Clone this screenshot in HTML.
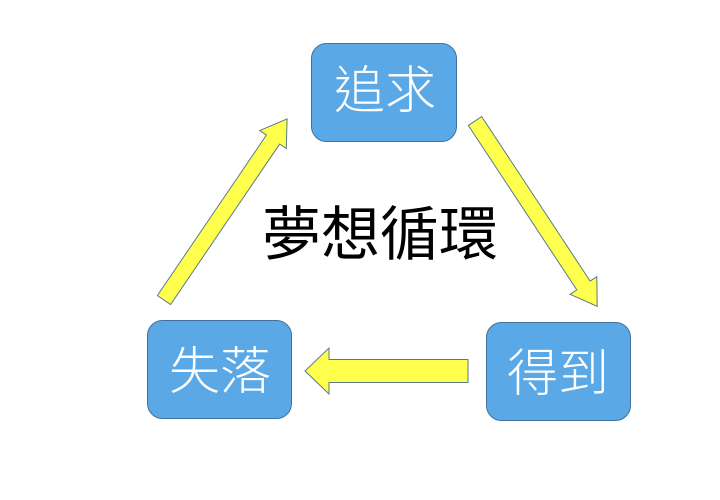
<!DOCTYPE html>
<html><head><meta charset="utf-8"><style>
html,body{margin:0;padding:0;background:#fff;width:720px;height:500px;overflow:hidden}
</style></head><body>
<svg width="720" height="500" xmlns="http://www.w3.org/2000/svg">
<g fill="#5aa9e6" stroke="#41719c" stroke-width="1">
<rect x="311.5" y="43.5" width="145" height="98" rx="15"/>
<rect x="147.5" y="320.5" width="144" height="98" rx="15"/>
<rect x="486.5" y="322.5" width="144" height="98" rx="15"/>
</g>
<g fill="#ffff4d" stroke="#5a7a8c" stroke-width="1">
<polygon transform="translate(164,300) rotate(-55.8)" points="0,-8 194,-8 194,-16 219,0 194,16 194,8 0,8"/>
<polygon transform="translate(475,121) rotate(56.6)" points="0,-8 197,-8 197,-16 222,0 197,16 197,8 0,8"/>
<polygon transform="translate(468,371) rotate(180)" points="0,-11.5 139,-11.5 139,-23 163,0 139,23 139,11.5 0,11.5"/>
</g>
<g font-family="'Liberation Sans','Noto Sans CJK TC',sans-serif" fill="#fff" font-size="51" font-weight="300" text-anchor="middle">
<text x="385" y="108">追求</text>
<text x="220" y="389">失落</text>
<text x="558" y="391">得到</text>
</g>
<text x="380" y="255" font-family="'Liberation Sans','Noto Sans CJK TC',sans-serif" font-size="59" text-anchor="middle" fill="#000">夢想循環</text>
</svg>
</body></html>
